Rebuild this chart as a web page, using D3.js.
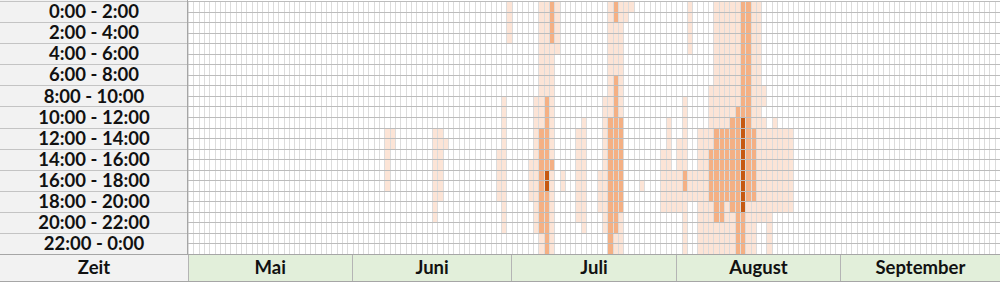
<!DOCTYPE html>
<html>
<head>
<meta charset="utf-8">
<script src="https://cdnjs.cloudflare.com/ajax/libs/d3/7.8.5/d3.min.js"></script>
<style>
    body { margin: 0; background: #fff; }
    svg { display: block; font-family: Lato, "Open Sans", sans-serif; }
</style>
</head>
<body>
<script>
    var timeLabels = ["0:00 - 2:00", "2:00 - 4:00", "4:00 - 6:00", "6:00 - 8:00",
        "8:00 - 10:00", "10:00 - 12:00", "12:00 - 14:00", "14:00 - 16:00",
        "16:00 - 18:00", "18:00 - 20:00", "20:00 - 22:00", "22:00 - 0:00"];
    var cornerLabel = "Zeit";
    var months = ["Mai", "Juni", "Juli", "August", "September"];
    var monthDays = [31, 30, 31, 31, 30];

    // runs of hourly cells: [day since 1 May, first hour, last hour, level]
    var activity = [
        [37, 12, 17, 1], [38, 12, 13, 1],
        [46, 12, 20, 1], [47, 12, 18, 1], [48, 13, 13, 1],
        [58, 14, 18, 1], [59, 9, 21, 1], [60, 0, 3, 1],
        [64, 15, 18, 1], [65, 9, 21, 1],
        [66, 0, 11, 1], [66, 12, 21, 3], [66, 22, 23, 1],
        [67, 0, 8, 1], [67, 9, 15, 3], [67, 16, 17, 4], [67, 18, 23, 3],
        [68, 0, 3, 3], [68, 4, 14, 1], [68, 15, 15, 3], [68, 16, 23, 1],
        [69, 0, 4, 1], [70, 16, 17, 1],
        [73, 12, 20, 1], [74, 11, 21, 1], [77, 16, 19, 1], [78, 9, 21, 1],
        [79, 0, 10, 1], [79, 11, 23, 3],
        [80, 0, 1, 3], [80, 2, 6, 1], [80, 7, 21, 3], [80, 22, 23, 1],
        [81, 0, 10, 1], [81, 11, 19, 3], [81, 20, 23, 1],
        [82, 0, 1, 1], [83, 0, 0, 1], [85, 17, 17, 1],
        [89, 14, 19, 1], [90, 11, 19, 1], [91, 16, 19, 1], [92, 13, 19, 1],
        [93, 9, 15, 1], [93, 16, 17, 3], [93, 18, 23, 1],
        [94, 0, 4, 1], [94, 16, 18, 1], [95, 16, 18, 1],
        [96, 12, 23, 1], [97, 12, 23, 1],
        [98, 8, 13, 1], [98, 14, 18, 3], [98, 19, 23, 1],
        [99, 0, 11, 1], [99, 12, 20, 3], [99, 21, 23, 1],
        [100, 0, 11, 1], [100, 12, 20, 3], [100, 21, 23, 1],
        [101, 0, 11, 1], [101, 12, 18, 3], [101, 19, 23, 1],
        [102, 0, 10, 1], [102, 11, 19, 3], [102, 20, 23, 1],
        [103, 0, 9, 1], [103, 10, 23, 3],
        [104, 0, 10, 3], [104, 11, 19, 4], [104, 20, 23, 3],
        [105, 0, 18, 3], [105, 19, 23, 1],
        [106, 0, 11, 1], [106, 12, 18, 3], [106, 19, 23, 1],
        [107, 0, 20, 1], [108, 8, 9, 1], [108, 11, 20, 1],
        [109, 12, 23, 1], [110, 11, 19, 1], [111, 12, 19, 1],
        [112, 12, 19, 1], [113, 12, 19, 1]
    ];

    var width = 1000, height = 282;
    var labelW = 188, gridTop = 1, gridBottom = 254, footBottom = 281;
    var fontSize = 18.5;
    var totalDays = d3.sum(monthDays);

    var cells = [];
    activity.forEach(function (r) {
        for (var h = r[1]; h <= r[2]; h++) cells.push({ day: r[0], hour: h, level: r[3] });
    });

    var x = d3.scaleLinear().domain([0, totalDays]).range([labelW, width]);
    var y = d3.scaleLinear().domain([0, 24]).range([gridTop, gridBottom]);
    var color = d3.scaleOrdinal().domain([1, 2, 3, 4])
        .range(["#fce4d6", "#f8cbad", "#f4b084", "#c65911"]);

    var svg = d3.select("body").append("svg")
        .attr("width", width).attr("height", height)
        .attr("shape-rendering", "crispEdges");

    // heat cells
    svg.append("g").selectAll("rect").data(cells).join("rect")
        .attr("x", d => x(d.day))
        .attr("y", d => y(d.hour))
        .attr("width", d => x(d.day + 1) - x(d.day))
        .attr("height", d => y(d.hour + 1) - y(d.hour))
        .attr("fill", d => color(d.level));

    // grid
    var grid = svg.append("g");
    grid.selectAll("line.v").data(d3.range(totalDays + 1)).join("line")
        .attr("class", "v")
        .attr("x1", d => Math.round(x(d)) + 0.5).attr("x2", d => Math.round(x(d)) + 0.5)
        .attr("y1", gridTop).attr("y2", gridBottom)
        .attr("stroke", "#dcdcdc");
    grid.selectAll("line.h").data(d3.range(25)).join("line")
        .attr("class", "h")
        .attr("x1", labelW).attr("x2", width)
        .attr("y1", d => Math.round(y(d)) + 0.5).attr("y2", d => Math.round(y(d)) + 0.5)
        .attr("stroke", "#bcbcbc");

    // time labels
    var rowH = y(2) - y(0);
    var lab = svg.append("g");
    lab.append("rect").attr("x", 0).attr("y", 0).attr("width", labelW).attr("height", gridBottom)
        .attr("fill", "#f2f2f2");
    lab.selectAll("line").data(d3.range(13)).join("line")
        .attr("x1", 0).attr("x2", labelW)
        .attr("y1", d => Math.round(y(d * 2)) + 0.5).attr("y2", d => Math.round(y(d * 2)) + 0.5)
        .attr("stroke", "#c4c4c4");
    lab.selectAll("text").data(timeLabels).join("text")
        .attr("x", labelW / 2)
        .attr("y", (d, i) => y(i * 2) + rowH / 2)
        .attr("dy", "0.36em")
        .attr("text-anchor", "middle")
        .attr("font-weight", "bold").attr("font-size", fontSize)
        .attr("fill", "#111")
        .text(d => d);
    lab.append("line").attr("x1", labelW - 0.5).attr("x2", labelW - 0.5)
        .attr("y1", 0).attr("y2", footBottom).attr("stroke", "#a6a6a6");

    // footer: months
    var starts = [0];
    monthDays.forEach(function (n, i) { starts.push(starts[i] + n); });
    var foot = svg.append("g");
    foot.append("rect").attr("x", 0).attr("y", gridBottom).attr("width", labelW)
        .attr("height", footBottom - gridBottom).attr("fill", "#f2f2f2");
    foot.append("text").attr("x", labelW / 2).attr("y", (gridBottom + footBottom) / 2)
        .attr("dy", "0.36em").attr("text-anchor", "middle")
        .attr("font-weight", "bold").attr("font-size", fontSize).attr("fill", "#111")
        .text(cornerLabel);
    foot.selectAll("rect.m").data(months).join("rect")
        .attr("class", "m")
        .attr("x", (d, i) => x(starts[i]))
        .attr("y", gridBottom)
        .attr("width", (d, i) => x(starts[i + 1]) - x(starts[i]))
        .attr("height", footBottom - gridBottom)
        .attr("fill", "#e2efda")
        .attr("stroke", "#b4b4b4");
    foot.selectAll("text.m").data(months).join("text")
        .attr("class", "m")
        .attr("x", (d, i) => (x(starts[i]) + x(starts[i + 1])) / 2)
        .attr("y", (gridBottom + footBottom) / 2)
        .attr("dy", "0.36em").attr("text-anchor", "middle")
        .attr("font-weight", "bold").attr("font-size", fontSize).attr("fill", "#111")
        .text(d => d);
    foot.append("line").attr("x1", 0).attr("x2", width)
        .attr("y1", gridBottom + 0.5).attr("y2", gridBottom + 0.5).attr("stroke", "#a6a6a6");
    foot.append("line").attr("x1", 0).attr("x2", width)
        .attr("y1", footBottom + 0.5).attr("y2", footBottom + 0.5).attr("stroke", "#a6a6a6");
</script>
</body>
</html>
